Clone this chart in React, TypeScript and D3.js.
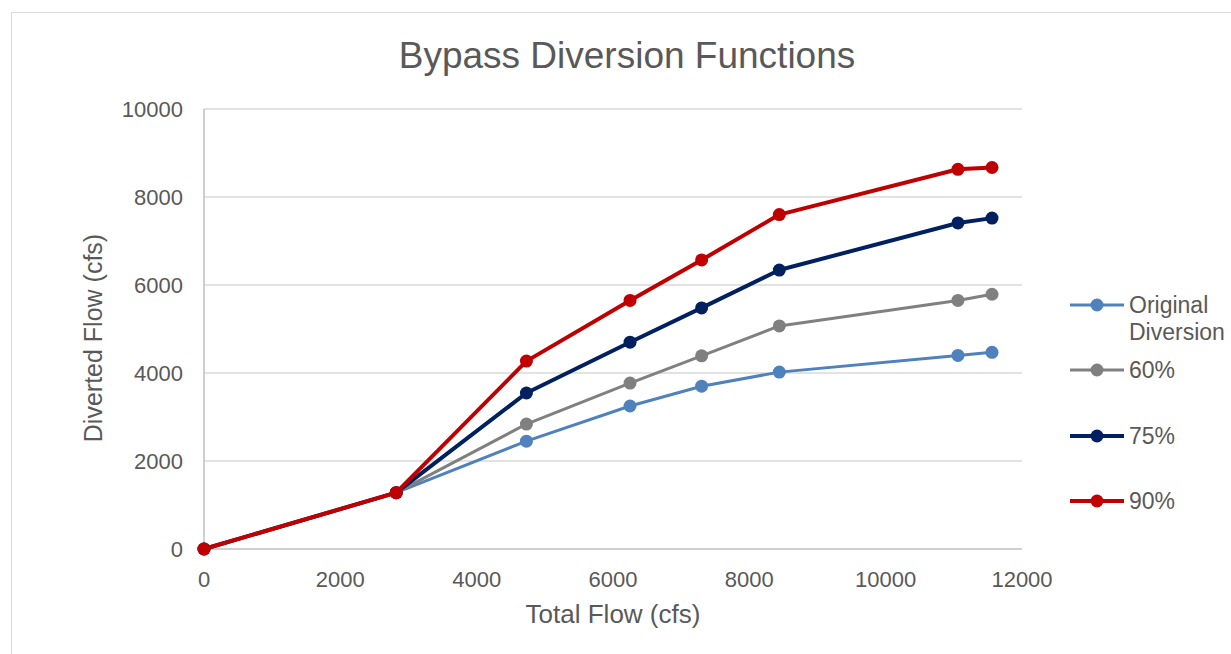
import { useRef, useEffect } from 'react';
import * as d3 from 'd3';

const totalFlow = [0, 2820, 4730, 6250, 7300, 8440, 11060, 11560];
const original = [0, 1280, 2450, 3250, 3700, 4020, 4400, 4470];
const pct60 = [0, 1280, 2840, 3770, 4390, 5070, 5650, 5790];
const pct75 = [0, 1280, 3545, 4700, 5480, 6340, 7410, 7520];
const pct90 = [0, 1280, 4270, 5650, 6570, 7600, 8630, 8670];
const seriesNames = ['Original Diversion', '60%', '75%', '90%'];
const seriesColors = ['#4f81bd', '#808080', '#002060', '#c00000'];
const seriesWidths = [3, 3, 4, 4];
const xTicks = [0, 2000, 4000, 6000, 8000, 10000, 12000];
const yTicks = [0, 2000, 4000, 6000, 8000, 10000];

export default function App() {
  const svgRef = useRef<SVGSVGElement>(null);
  const width = 1231;
  const height = 654;

  useEffect(() => {
    const svg = d3.select(svgRef.current);
    svg.selectAll('*').remove();
    const font = 'Liberation Sans, Arial, sans-serif';

    // chart border
    svg.append('rect')
      .attr('x', 11.5).attr('y', 12.5)
      .attr('width', width + 20).attr('height', height + 20)
      .attr('fill', '#fff').attr('stroke', '#d9d9d9');

    const x = d3.scaleLinear().domain([0, 12000]).range([204, 1022]);
    const y = d3.scaleLinear().domain([0, 10000]).range([549, 109]);

    // grid
    svg.append('g').selectAll('line')
      .data(yTicks.filter((t) => t > 0))
      .join('line')
      .attr('x1', x(0)).attr('x2', x(12000))
      .attr('y1', (d) => y(d)).attr('y2', (d) => y(d))
      .attr('stroke', '#d9d9d9').attr('stroke-width', 1.5);

    svg.append('line')
      .attr('x1', x(0)).attr('x2', x(0)).attr('y1', y(0)).attr('y2', y(10000))
      .attr('stroke', '#bfbfbf').attr('stroke-width', 1.5);
    svg.append('line')
      .attr('x1', x(0)).attr('x2', x(12000)).attr('y1', y(0)).attr('y2', y(0))
      .attr('stroke', '#bfbfbf').attr('stroke-width', 1.5);

    // tick labels
    svg.append('g').selectAll('text')
      .data(yTicks)
      .join('text')
      .attr('x', x(0) - 21).attr('y', (d) => y(d))
      .attr('dy', '0.35em')
      .attr('text-anchor', 'end')
      .attr('font-family', font).attr('font-size', 22).attr('fill', '#595959')
      .text((d) => d);

    svg.append('g').selectAll('text')
      .data(xTicks)
      .join('text')
      .attr('x', (d) => x(d)).attr('y', y(0) + 38)
      .attr('text-anchor', 'middle')
      .attr('font-family', font).attr('font-size', 22).attr('fill', '#595959')
      .text((d) => d);

    // titles
    svg.append('text')
      .attr('x', 627).attr('y', 68)
      .attr('text-anchor', 'middle')
      .attr('font-family', font).attr('font-size', 37).attr('fill', '#595959')
      .text('Bypass Diversion Functions');
    svg.append('text')
      .attr('x', 613).attr('y', 623)
      .attr('text-anchor', 'middle')
      .attr('font-family', font).attr('font-size', 26).attr('fill', '#595959')
      .text('Total Flow (cfs)');
    svg.append('text')
      .attr('transform', `translate(102,${y(5000) + 9}) rotate(-90)`)
      .attr('text-anchor', 'middle')
      .attr('font-family', font).attr('font-size', 25).attr('fill', '#595959')
      .text('Diverted Flow (cfs)');

    const allSeries = [original, pct60, pct75, pct90];
    const line = d3.line<number>()
      .x((_, i) => x(totalFlow[i]))
      .y((d) => y(d));

    allSeries.forEach((vals, s) => {
      const g = svg.append('g');
      g.append('path')
        .attr('d', line(vals))
        .attr('fill', 'none')
        .attr('stroke', seriesColors[s])
        .attr('stroke-width', seriesWidths[s])
        .attr('stroke-linejoin', 'round');
      g.selectAll('circle')
        .data(vals)
        .join('circle')
        .attr('cx', (_, i) => x(totalFlow[i]))
        .attr('cy', (d) => y(d))
        .attr('r', 6.5)
        .attr('fill', seriesColors[s]);
    });

    // legend
    const legendY = [305, 370, 436, 501];
    const legend = svg.append('g');
    seriesNames.forEach((name, i) => {
      const ly = legendY[i];
      legend.append('line')
        .attr('x1', 1070).attr('x2', 1124).attr('y1', ly).attr('y2', ly)
        .attr('stroke', seriesColors[i]).attr('stroke-width', seriesWidths[i]);
      legend.append('circle')
        .attr('cx', 1097).attr('cy', ly).attr('r', 6.5).attr('fill', seriesColors[i]);
      const t = legend.append('text')
        .attr('x', 1129).attr('y', ly)
        .attr('dy', '0.35em')
        .attr('font-family', font).attr('font-size', 23).attr('fill', '#595959');
      if (name === 'Original Diversion') {
        t.append('tspan').attr('x', 1129).text('Original');
        t.append('tspan').attr('x', 1129).attr('dy', 27).text('Diversion');
      } else {
        t.text(name);
      }
    });
  }, []);

  return (
    <div style={{ position: 'absolute', left: 0, top: 0 }}>
      <svg ref={svgRef} width={width} height={height} style={{ display: 'block' }} />
    </div>
  );
}
